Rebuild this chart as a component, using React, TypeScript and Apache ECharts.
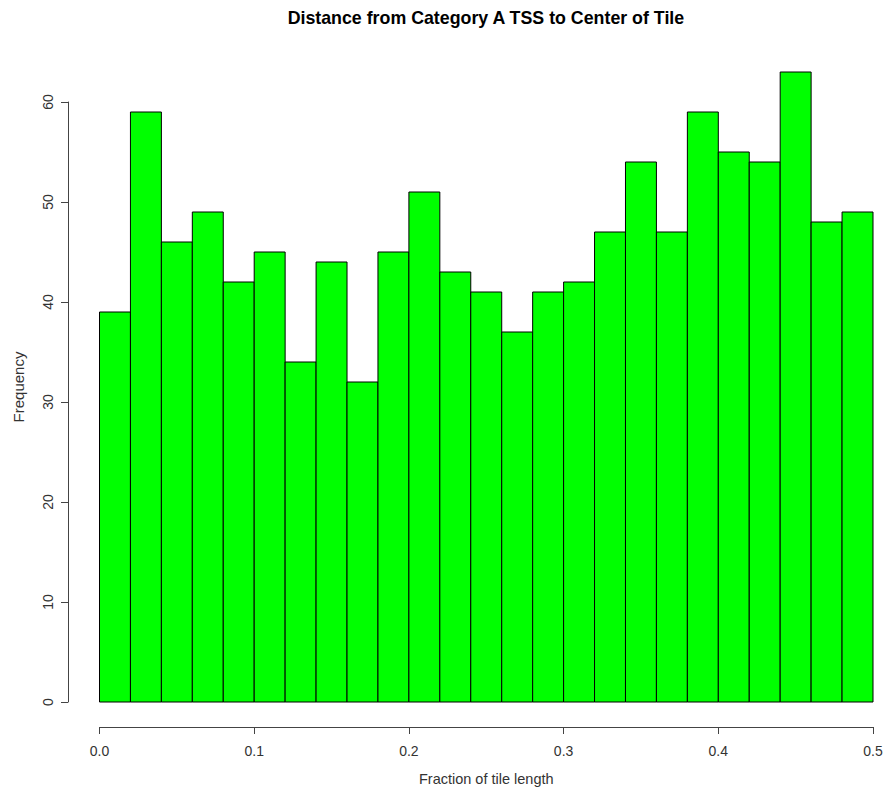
import React, { useEffect, useRef } from "react";
import * as echarts from "echarts";

const titleText = "Distance from Category A TSS to Center of Tile";
const xAxisTitle = "Fraction of tile length";
const yAxisTitle = "Frequency";

const binEdges = [
  0.0, 0.02, 0.04, 0.06, 0.08, 0.1, 0.12, 0.14, 0.16, 0.18, 0.2, 0.22, 0.24,
  0.26, 0.28, 0.3, 0.32, 0.34, 0.36, 0.38, 0.4, 0.42, 0.44, 0.46, 0.48, 0.5,
];
const counts = [
  39, 59, 46, 49, 42, 45, 34, 44, 32, 45, 51, 43, 41, 37, 41, 42, 47, 54, 47,
  59, 55, 54, 63, 48, 49,
];
const xTicks = [0.0, 0.1, 0.2, 0.3, 0.4, 0.5];
const yTicks = [0, 10, 20, 30, 40, 50, 60];

const FONT = "'Liberation Sans', Arial, Helvetica, sans-serif";

export default function App() {
  const ref = useRef<HTMLDivElement>(null);
  useEffect(() => {
    document.body.style.margin = "0";
    if (!ref.current) return;
    const chart = echarts.init(ref.current, null, { renderer: "svg" });
    const data = counts.map((c, i) => [binEdges[i], binEdges[i + 1], c]);
    chart.setOption({
      animation: false,
      backgroundColor: "#ffffff",
      title: {
        text: titleText,
        left: "54.4%",
        textAlign: "center",
        top: 4,
        textStyle: {
          fontFamily: FONT,
          fontSize: 17.8,
          fontWeight: "bold",
          color: "#000",
        },
      },
      grid: {
        left: 99.5,
        right: 11,
        top: 102,
        bottom: 87,
        containLabel: false,
        outerBoundsMode: "none",
      },
      xAxis: {
        type: "value",
        min: xTicks[0],
        max: xTicks[xTicks.length - 1],
        interval: 0.1,
        offset: 25,
        splitLine: { show: false },
        axisLine: {
          show: true,
          onZero: false,
          lineStyle: { color: "#444", width: 1 },
        },
        axisTick: { show: true, length: 7, lineStyle: { color: "#444" } },
        axisLabel: {
          margin: 17,
          fontFamily: FONT,
          fontSize: 14,
          color: "#333",
          formatter: (v: number) => v.toFixed(1),
        },
        name: xAxisTitle,
        nameLocation: "middle",
        nameGap: 44,
        nameTextStyle: { fontFamily: FONT, fontSize: 14.5, color: "#333" },
      },
      yAxis: {
        type: "value",
        min: yTicks[0],
        max: yTicks[yTicks.length - 1],
        interval: 10,
        offset: 31.5,
        splitLine: { show: false },
        axisLine: {
          show: true,
          onZero: false,
          lineStyle: { color: "#444", width: 1 },
        },
        axisTick: { show: true, length: 7, lineStyle: { color: "#444" } },
        axisLabel: {
          rotate: 90,
          margin: 13,
          fontFamily: FONT,
          fontSize: 14,
          color: "#333",
        },
        name: yAxisTitle,
        nameLocation: "middle",
        nameGap: 42,
        nameRotate: 90,
        nameTextStyle: {
          fontFamily: FONT,
          fontSize: 15,
          color: "#333",
          padding: [0, 0, 0, 30],
        },
      },
      series: [
        {
          type: "custom",
          clip: false,
          data,
          encode: { x: [0, 1], y: 2 },
          renderItem: (params: any, api: any) => {
            const x0 = api.value(0);
            const x1 = api.value(1);
            const y = api.value(2);
            const p0 = api.coord([x0, 0]);
            const p1 = api.coord([x1, y]);
            return {
              type: "rect",
              shape: {
                x: p0[0],
                y: p1[1],
                width: p1[0] - p0[0],
                height: p0[1] - p1[1],
              },
              style: { fill: "#00ff00", stroke: "#000", lineWidth: 1 },
            };
          },
        },
      ],
    });
    return () => chart.dispose();
  }, []);
  return <div ref={ref} style={{ width: 884, height: 789 }} />;
}
